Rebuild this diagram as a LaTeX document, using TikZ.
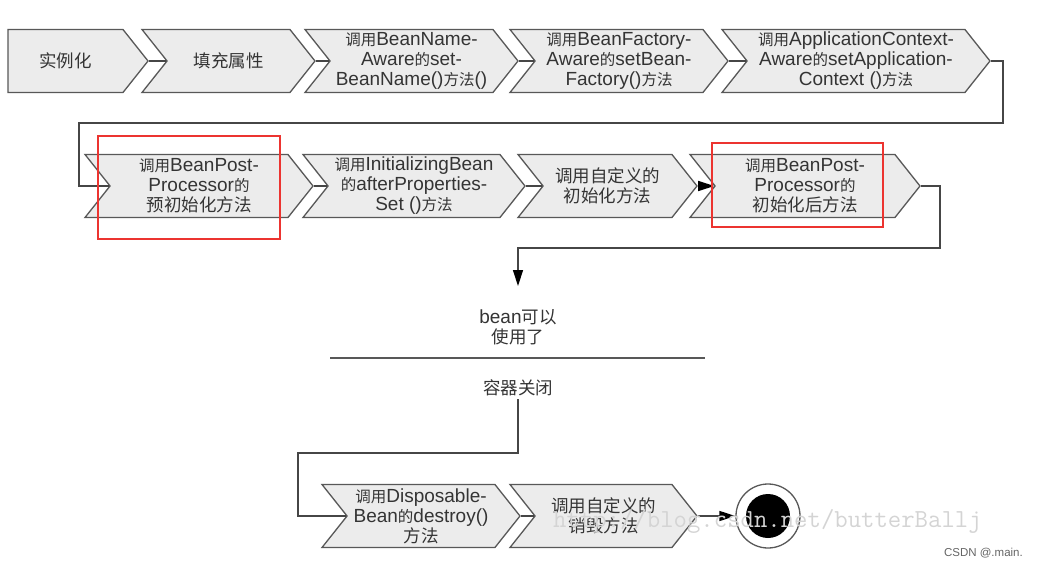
\documentclass[tikz,border=0pt]{standalone}
\usepackage{fontspec}
\setmainfont{Liberation Sans}
\newfontfamily\zhfont{Noto Sans CJK SC}
\usetikzlibrary{arrows.meta,positioning,shapes.symbols}
\definecolor{LcBorder}{RGB}{88,88,88}
\definecolor{LcFill}{RGB}{236,236,236}
\definecolor{LcText}{RGB}{52,52,52}
\definecolor{LcLine}{RGB}{70,70,70}
\definecolor{LcRed}{RGB}{236,52,48}
\definecolor{LcMark}{RGB}{212,212,212}
\definecolor{LcGray}{RGB}{100,100,100}
% chinese inside a mixed line / a line of chinese only
\newcommand{\zh}[1]{{\zhfont\fontsize{15.5}{20}\selectfont #1}}
\newcommand{\zhline}[1]{{\zhfont\fontsize{17.5}{20}\selectfont #1}}
\tikzset{
  lc/chev/.style={
    signal,
    signal to=east,
    signal from=west,
    signal pointer angle=103,
    draw=LcBorder,
    line width=1.3pt,
    fill=LcFill,
    text=LcText,
    align=center,
    minimum height=63pt,
    inner sep=0pt,
    font=\fontsize{19}{20}\selectfont
  },
  lc/first/.style={lc/chev, signal from=nowhere},
  lc/plain/.style={text=LcText, align=center, inner sep=3pt, font=\fontsize{19}{20}\selectfont},
  lc/line/.style={draw=LcLine, line width=1.4pt},
  lc/arrow/.style={lc/line, -{Triangle[length=16pt,width=10pt,color=black]}},
  lc/sep/.style={draw=LcBorder, line width=2pt},
  lc/redbox/.style={draw=LcRed, line width=2.4pt},
  lc/stop/.style={circle, draw=LcBorder, line width=1.3pt, fill=white, minimum size=64pt, inner sep=0pt},
  lc/stopdot/.style={circle, fill=black, minimum size=44pt, inner sep=0pt},
  lc/mark/.style={text=LcMark, inner sep=0pt, font=\ttfamily\fontsize{26}{28}\selectfont}
}

\begin{document}
\begin{tikzpicture}[x=1pt,y=-1pt]
  \useasboundingbox (0,0) rectangle (1039,567);
  % first row
  \node[lc/first,minimum width=140pt] (s1) at (65.5,61) {\zhline{实例化}};
  \node[lc/chev,minimum width=173pt] (s2) at (228.5,61) {\zhline{填充属性}};
  \node[lc/chev,minimum width=213pt] (s3) at (411.5,61) {\zh{调用}BeanName-\\Aware\zh{的}set-\\BeanName()\zh{方法}()};
  \node[lc/chev,minimum width=218pt] (s4) at (619,61) {\zh{调用}BeanFactory-\\Aware\zh{的}setBean-\\Factory()\zh{方法}};
  \node[lc/chev,minimum width=268pt] (s5) at (856,61) {\zh{调用}ApplicationContext-\\Aware\zh{的}setApplication-\\Context ()\zh{方法}};
  % second row
  \node[lc/chev,minimum width=228pt] (s6) at (199,186) {\zh{调用}BeanPost-\\Processor\zh{的}\\\zhline{预初始化方法}};
  \node[lc/chev,minimum width=222pt] (s7) at (414,186) {\zh{调用}InitializingBean\\\zh{的}afterProperties-\\Set ()\zh{方法}};
  \node[lc/chev,minimum width=179pt] (s8) at (607.5,186) {\zhline{调用自定义的}\\\zhline{初始化方法}};
  \node[lc/chev,minimum width=230pt] (s9) at (805,186) {\zh{调用}BeanPost-\\Processor\zh{的}\\\zhline{初始化后方法}};
  % bean in use
  \node[lc/plain] (ready) at (518,327) {bean\zhline{可以}\\\zhline{使用了}};
  \node[lc/plain] (close) at (518,388) {\zhline{容器关闭}};
  \coordinate (readytop) at (518,286);
  \draw[lc/sep] (330,358) -- (705,358);
  % last row
  \node[lc/chev,minimum width=198pt] (s10) at (421,516) {\zh{调用}Disposable-\\Bean\zh{的}destroy()\\\zhline{方法}};
  \node[lc/chev,minimum width=187pt] (s11) at (603.5,516) {\zhline{调用自定义的}\\\zhline{销毁方法}};
  \node[lc/stop] (stop) at (768,516) {};
  \node[lc/stopdot] (stopdot) at (stop) {};
  % connectors
  \foreach \a/\b in {s1/s2,s2/s3,s3/s4,s4/s5,s6/s7,s7/s8,s10/s11}
    \draw[lc/line] (\a.east) -- (\b.west);
  \draw[lc/line] (s5.east) -| (1003,123) -| (79,186) -- (s6.west);
  \draw[lc/arrow] (s8.east) -- (s9.west);
  \draw[lc/arrow] (s9.east) -| (940,248) -| (readytop);
  \draw[lc/line] (close.south) |- (298,453) |- (s10.west);
  \draw[lc/arrow] (s11.east) -- (stop.west);
  % marks
  \draw[lc/redbox] (98,136) rectangle (280,239);
  \draw[lc/redbox] (712,143) rectangle (883,227);
  \node[lc/mark,anchor=base west] (mark) at (553,527) {http://blog.csdn.net/butterBallj};
  \node[anchor=east,inner sep=0pt,text=LcGray,font=\fontsize{11.5}{12}\selectfont] (credit) at (1023,553) {CSDN @.main.};
\end{tikzpicture}
\end{document}
